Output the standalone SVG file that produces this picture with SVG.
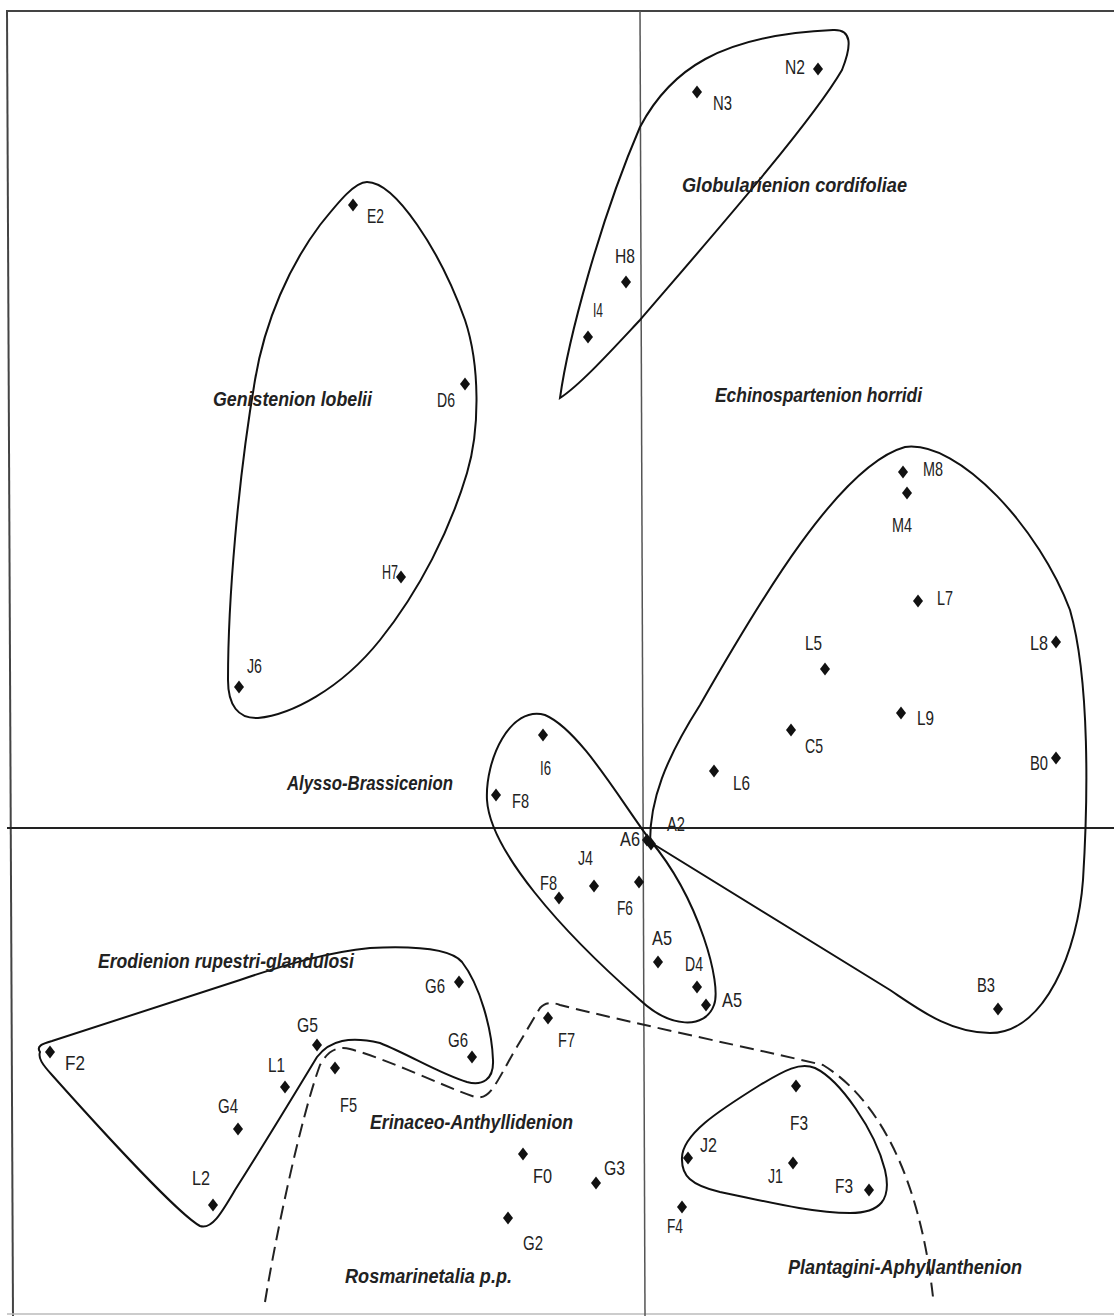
<svg xmlns="http://www.w3.org/2000/svg" width="1114" height="1316" viewBox="0 0 1114 1316">
<defs>
<style>
.pl{font-family:"Liberation Sans Narrow","Liberation Sans",Arial,sans-serif;font-size:21px;fill:#222}
.rl{font-family:"Liberation Sans Narrow","Liberation Sans",Arial,sans-serif;font-size:21px;font-weight:bold;font-style:italic;fill:#222}
.ol{fill:none;stroke:#111;stroke-width:2}
.ds{fill:none;stroke:#222;stroke-width:2;stroke-dasharray:14 7}
.dm{fill:#111}
.fr{stroke:#444;stroke-width:2;fill:none}
.ax{stroke:#555;stroke-width:1.5;fill:none}
</style>
<path id="dia" d="M0,-6.5L5,0L0,6.5L-5,0Z"/>
</defs>
<rect width="1114" height="1316" fill="#fff"/>
<g id="frame">
<line class="fr" x1="6" y1="11" x2="1114" y2="11"/>
<line class="fr" x1="7" y1="11" x2="13" y2="1316"/>
<line x1="7" y1="1314" x2="1114" y2="1314" stroke="#bbb" stroke-width="1.5"/>
</g>
<g id="axes">
<line class="ax" x1="640" y1="11" x2="645" y2="1316"/>
<line x1="7" y1="828" x2="1114" y2="828" stroke="#222" stroke-width="2"/>
</g>
<g id="connectors">
<path id="outline-globularienion" class="ol" d="M560,398 C568,340 600,220 640,127 C670,70 720,35 833,30 C852,29 852,45 842,70 C810,125 700,250 640,320 C610,352 580,385 560,398 Z"/>
<path id="outline-genistenion" class="ol" d="M367,182 C395,182 440,250 465,320 C480,365 480,430 467,473 C450,530 420,590 380,640 C340,690 290,715 258,718 C238,719 228,705 228,680 C228,600 238,480 255,380 C265,320 290,265 320,225 C340,200 355,182 367,182 Z"/>
<path id="outline-echinospartenion" class="ol" d="M650,842 C650,800 665,760 700,705 C760,600 840,465 905,447 C960,440 1040,530 1070,610 C1090,680 1088,800 1083,880 C1078,950 1045,1033 990,1033 C950,1033 920,1010 890,990 L650,842 Z"/>
<path id="outline-alysso" class="ol" d="M650,840 C620,800 580,730 545,715 C510,705 485,760 487,800 C490,850 560,930 640,1000 C670,1028 705,1030 714,1005 C722,985 700,900 650,840 Z"/>
<path id="outline-erodienion" class="ol" d="M40,1052 C36,1046 42,1044 52,1041 L240,980 C290,963 330,952 370,948 C410,946 450,948 462,962 C480,985 492,1030 493,1060 C494,1080 482,1086 467,1082 C440,1074 410,1055 380,1043 C350,1036 330,1040 317,1057 C300,1085 270,1135 235,1190 C222,1212 212,1230 200,1226 C180,1215 110,1140 52,1075 C42,1064 38,1058 40,1052 Z"/>
<path id="outline-plantagini" class="ol" d="M682,1160 C680,1135 720,1110 760,1085 C785,1070 800,1062 815,1068 C840,1080 875,1130 885,1170 C892,1200 880,1213 850,1213 C810,1213 760,1200 720,1192 C690,1185 682,1175 682,1160 Z"/>
<path id="boundary-rosmarinetalia" class="ds" d="M265,1302 C275,1240 300,1120 320,1065 C328,1050 338,1046 350,1049 C390,1060 440,1085 475,1097 C490,1100 495,1085 515,1050 L540,1008 C545,1002 552,1002 560,1005 C640,1025 760,1050 823,1065 C880,1100 920,1180 933,1297"/>
</g>
<g id="region-labels">
<text id="lab-globularienion" class="rl" x="682" y="192" textLength="225" lengthAdjust="spacingAndGlyphs">Globularienion cordifoliae</text>
<text id="lab-echinospartenion" class="rl" x="715" y="402" textLength="207" lengthAdjust="spacingAndGlyphs">Echinospartenion horridi</text>
<text id="lab-genistenion" class="rl" x="213" y="406" textLength="159" lengthAdjust="spacingAndGlyphs">Genistenion lobelii</text>
<text id="lab-alysso" class="rl" x="287" y="790" textLength="166" lengthAdjust="spacingAndGlyphs">Alysso-Brassicenion</text>
<text id="lab-erodienion" class="rl" x="98" y="968" textLength="256" lengthAdjust="spacingAndGlyphs">Erodienion rupestri-glandulosi</text>
<text id="lab-erinaceo" class="rl" x="370" y="1129" textLength="203" lengthAdjust="spacingAndGlyphs">Erinaceo-Anthyllidenion</text>
<text id="lab-rosmarinetalia" class="rl" x="345" y="1283" textLength="167" lengthAdjust="spacingAndGlyphs">Rosmarinetalia p.p.</text>
<text id="lab-plantagini" class="rl" x="788" y="1274" textLength="234" lengthAdjust="spacingAndGlyphs">Plantagini-Aphyllanthenion</text>
</g>
<g id="points">
<g id="n-N2"><use href="#dia" class="dm" x="818" y="69"/><text class="pl" x="785" y="74" textLength="20" lengthAdjust="spacingAndGlyphs">N2</text></g>
<g id="n-N3"><use href="#dia" class="dm" x="697" y="92"/><text class="pl" x="713" y="110" textLength="19" lengthAdjust="spacingAndGlyphs">N3</text></g>
<g id="n-H8"><use href="#dia" class="dm" x="626" y="282"/><text class="pl" x="615" y="263" textLength="20" lengthAdjust="spacingAndGlyphs">H8</text></g>
<g id="n-I4"><use href="#dia" class="dm" x="588" y="337"/><text class="pl" x="593" y="317" textLength="10" lengthAdjust="spacingAndGlyphs">I4</text></g>
<g id="n-E2"><use href="#dia" class="dm" x="353" y="205"/><text class="pl" x="367" y="223" textLength="17" lengthAdjust="spacingAndGlyphs">E2</text></g>
<g id="n-D6"><use href="#dia" class="dm" x="465" y="384"/><text class="pl" x="437" y="407" textLength="18" lengthAdjust="spacingAndGlyphs">D6</text></g>
<g id="n-H7"><use href="#dia" class="dm" x="401" y="577"/><text class="pl" x="382" y="579" textLength="16" lengthAdjust="spacingAndGlyphs">H7</text></g>
<g id="n-J6"><use href="#dia" class="dm" x="239" y="687"/><text class="pl" x="247" y="673" textLength="15" lengthAdjust="spacingAndGlyphs">J6</text></g>
<g id="n-M8"><use href="#dia" class="dm" x="903" y="472"/><text class="pl" x="923" y="476" textLength="20" lengthAdjust="spacingAndGlyphs">M8</text></g>
<g id="n-M4"><use href="#dia" class="dm" x="907" y="493"/><text class="pl" x="892" y="532" textLength="20" lengthAdjust="spacingAndGlyphs">M4</text></g>
<g id="n-L7"><use href="#dia" class="dm" x="918" y="601"/><text class="pl" x="937" y="605" textLength="16" lengthAdjust="spacingAndGlyphs">L7</text></g>
<g id="n-L5"><use href="#dia" class="dm" x="825" y="669"/><text class="pl" x="805" y="650" textLength="17" lengthAdjust="spacingAndGlyphs">L5</text></g>
<g id="n-L8"><use href="#dia" class="dm" x="1056" y="642"/><text class="pl" x="1030" y="650" textLength="18" lengthAdjust="spacingAndGlyphs">L8</text></g>
<g id="n-L9"><use href="#dia" class="dm" x="901" y="713"/><text class="pl" x="917" y="725" textLength="17" lengthAdjust="spacingAndGlyphs">L9</text></g>
<g id="n-C5"><use href="#dia" class="dm" x="791" y="730"/><text class="pl" x="805" y="753" textLength="18" lengthAdjust="spacingAndGlyphs">C5</text></g>
<g id="n-B0"><use href="#dia" class="dm" x="1056" y="758"/><text class="pl" x="1030" y="770" textLength="18" lengthAdjust="spacingAndGlyphs">B0</text></g>
<g id="n-L6"><use href="#dia" class="dm" x="714" y="771"/><text class="pl" x="733" y="790" textLength="17" lengthAdjust="spacingAndGlyphs">L6</text></g>
<g id="n-A6"><use href="#dia" class="dm" x="647" y="840"/><text class="pl" x="620" y="846" textLength="20" lengthAdjust="spacingAndGlyphs">A6</text></g>
<g id="n-A2"><use href="#dia" class="dm" x="651" y="844"/><text class="pl" x="667" y="831" textLength="18" lengthAdjust="spacingAndGlyphs">A2</text></g>
<g id="n-I6"><use href="#dia" class="dm" x="543" y="735"/><text class="pl" x="540" y="775" textLength="11" lengthAdjust="spacingAndGlyphs">I6</text></g>
<g id="n-F8a"><use href="#dia" class="dm" x="496" y="795"/><text class="pl" x="512" y="808" textLength="17" lengthAdjust="spacingAndGlyphs">F8</text></g>
<g id="n-J4"><use href="#dia" class="dm" x="594" y="886"/><text class="pl" x="578" y="865" textLength="15" lengthAdjust="spacingAndGlyphs">J4</text></g>
<g id="n-F8b"><use href="#dia" class="dm" x="559" y="898"/><text class="pl" x="540" y="890" textLength="17" lengthAdjust="spacingAndGlyphs">F8</text></g>
<g id="n-F6"><use href="#dia" class="dm" x="639" y="882"/><text class="pl" x="617" y="915" textLength="16" lengthAdjust="spacingAndGlyphs">F6</text></g>
<g id="n-A5a"><use href="#dia" class="dm" x="658" y="962"/><text class="pl" x="652" y="945" textLength="20" lengthAdjust="spacingAndGlyphs">A5</text></g>
<g id="n-D4"><use href="#dia" class="dm" x="697" y="987"/><text class="pl" x="685" y="971" textLength="18" lengthAdjust="spacingAndGlyphs">D4</text></g>
<g id="n-A5b"><use href="#dia" class="dm" x="706" y="1005"/><text class="pl" x="722" y="1007" textLength="20" lengthAdjust="spacingAndGlyphs">A5</text></g>
<g id="n-B3"><use href="#dia" class="dm" x="998" y="1009"/><text class="pl" x="977" y="992" textLength="18" lengthAdjust="spacingAndGlyphs">B3</text></g>
<g id="n-G6a"><use href="#dia" class="dm" x="459" y="982"/><text class="pl" x="425" y="993" textLength="20" lengthAdjust="spacingAndGlyphs">G6</text></g>
<g id="n-G6b"><use href="#dia" class="dm" x="472" y="1057"/><text class="pl" x="448" y="1047" textLength="20" lengthAdjust="spacingAndGlyphs">G6</text></g>
<g id="n-G5"><use href="#dia" class="dm" x="317" y="1045"/><text class="pl" x="297" y="1032" textLength="21" lengthAdjust="spacingAndGlyphs">G5</text></g>
<g id="n-L1"><use href="#dia" class="dm" x="285" y="1087"/><text class="pl" x="268" y="1072" textLength="17" lengthAdjust="spacingAndGlyphs">L1</text></g>
<g id="n-F5"><use href="#dia" class="dm" x="335" y="1068"/><text class="pl" x="340" y="1112" textLength="17" lengthAdjust="spacingAndGlyphs">F5</text></g>
<g id="n-F2"><use href="#dia" class="dm" x="50" y="1052"/><text class="pl" x="65" y="1070" textLength="20" lengthAdjust="spacingAndGlyphs">F2</text></g>
<g id="n-G4"><use href="#dia" class="dm" x="238" y="1129"/><text class="pl" x="218" y="1113" textLength="20" lengthAdjust="spacingAndGlyphs">G4</text></g>
<g id="n-L2"><use href="#dia" class="dm" x="213" y="1205"/><text class="pl" x="192" y="1185" textLength="18" lengthAdjust="spacingAndGlyphs">L2</text></g>
<g id="n-F7"><use href="#dia" class="dm" x="548" y="1018"/><text class="pl" x="558" y="1047" textLength="17" lengthAdjust="spacingAndGlyphs">F7</text></g>
<g id="n-F0"><use href="#dia" class="dm" x="523" y="1154"/><text class="pl" x="533" y="1183" textLength="19" lengthAdjust="spacingAndGlyphs">F0</text></g>
<g id="n-G3"><use href="#dia" class="dm" x="596" y="1183"/><text class="pl" x="604" y="1175" textLength="21" lengthAdjust="spacingAndGlyphs">G3</text></g>
<g id="n-G2"><use href="#dia" class="dm" x="508" y="1218"/><text class="pl" x="523" y="1250" textLength="20" lengthAdjust="spacingAndGlyphs">G2</text></g>
<g id="n-F3a"><use href="#dia" class="dm" x="796" y="1086"/><text class="pl" x="790" y="1130" textLength="18" lengthAdjust="spacingAndGlyphs">F3</text></g>
<g id="n-J2"><use href="#dia" class="dm" x="688" y="1158"/><text class="pl" x="700" y="1152" textLength="17" lengthAdjust="spacingAndGlyphs">J2</text></g>
<g id="n-J1"><use href="#dia" class="dm" x="793" y="1163"/><text class="pl" x="768" y="1183" textLength="15" lengthAdjust="spacingAndGlyphs">J1</text></g>
<g id="n-F3b"><use href="#dia" class="dm" x="869" y="1190"/><text class="pl" x="835" y="1193" textLength="18" lengthAdjust="spacingAndGlyphs">F3</text></g>
<g id="n-F4"><use href="#dia" class="dm" x="682" y="1207"/><text class="pl" x="667" y="1233" textLength="16" lengthAdjust="spacingAndGlyphs">F4</text></g>
</g>
</svg>
